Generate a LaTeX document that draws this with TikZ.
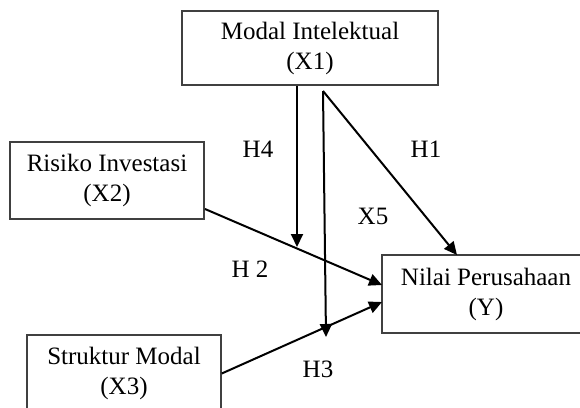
\documentclass[tikz,border=0pt]{standalone}
\usepackage{fontspec}
\setmainfont{Liberation Serif}
\usepackage{tikz}
\usetikzlibrary{positioning}
\usetikzlibrary{arrows.meta}
\tikzstyle{varbox} = [rectangle, draw=black!75, line width=1.5pt, align=center, inner sep=0pt]
\tikzstyle{link} = [line width=2pt, -{Triangle[length=13pt,width=12pt]}]
\tikzstyle{hypo} = [inner sep=0pt, anchor=base]

\begin{document}
\begin{tikzpicture}[x=1pt, y=-1pt, font=\fontsize{25}{30}\selectfont]
            \useasboundingbox (0,0) rectangle (580,407);
            \node[varbox, minimum width=256pt, minimum height=74pt] (x1) at (310,48) {Modal Intelektual\\(X1)};
            \node[varbox, minimum width=194pt, minimum height=77pt] (x2) at (107,180.5) {Risiko Investasi\\(X2)};
            \node[varbox, minimum width=194pt, minimum height=77pt] (x3) at (124,373.5) {Struktur Modal\\(X3)};
            \node[varbox, minimum width=208pt, minimum height=78pt] (y) at (486,294) {Nilai Perusahaan\\(Y)};
            \coordinate (h4end) at (297,247);
            \coordinate (x5top) at (323,91);
            \coordinate (x5end) at (326,337);
            \coordinate (x2out) at (205,209);
            \coordinate (yin2) at (382,285);
            \coordinate (yin3) at (382,302);
            \coordinate (yin1) at (457,255);
            \draw[link] (x1.south -| h4end) -- (h4end);
            \draw[link] (x5top) -- (x5end);
            \draw[link] (x5top) -- (yin1);
            \draw[link] (x2out) -- (yin2);
            \draw[link] (x3.east) -- (yin3);
            \node[hypo] (h4) at (258,157) {H4};
            \node[hypo] (h1) at (426,157) {H1};
            \node[hypo] (x5) at (373,224) {X5};
            \node[hypo] (h2) at (250,277) {H 2};
            \node[hypo] (h3) at (318,377) {H3};
          \end{tikzpicture}
\end{document}
